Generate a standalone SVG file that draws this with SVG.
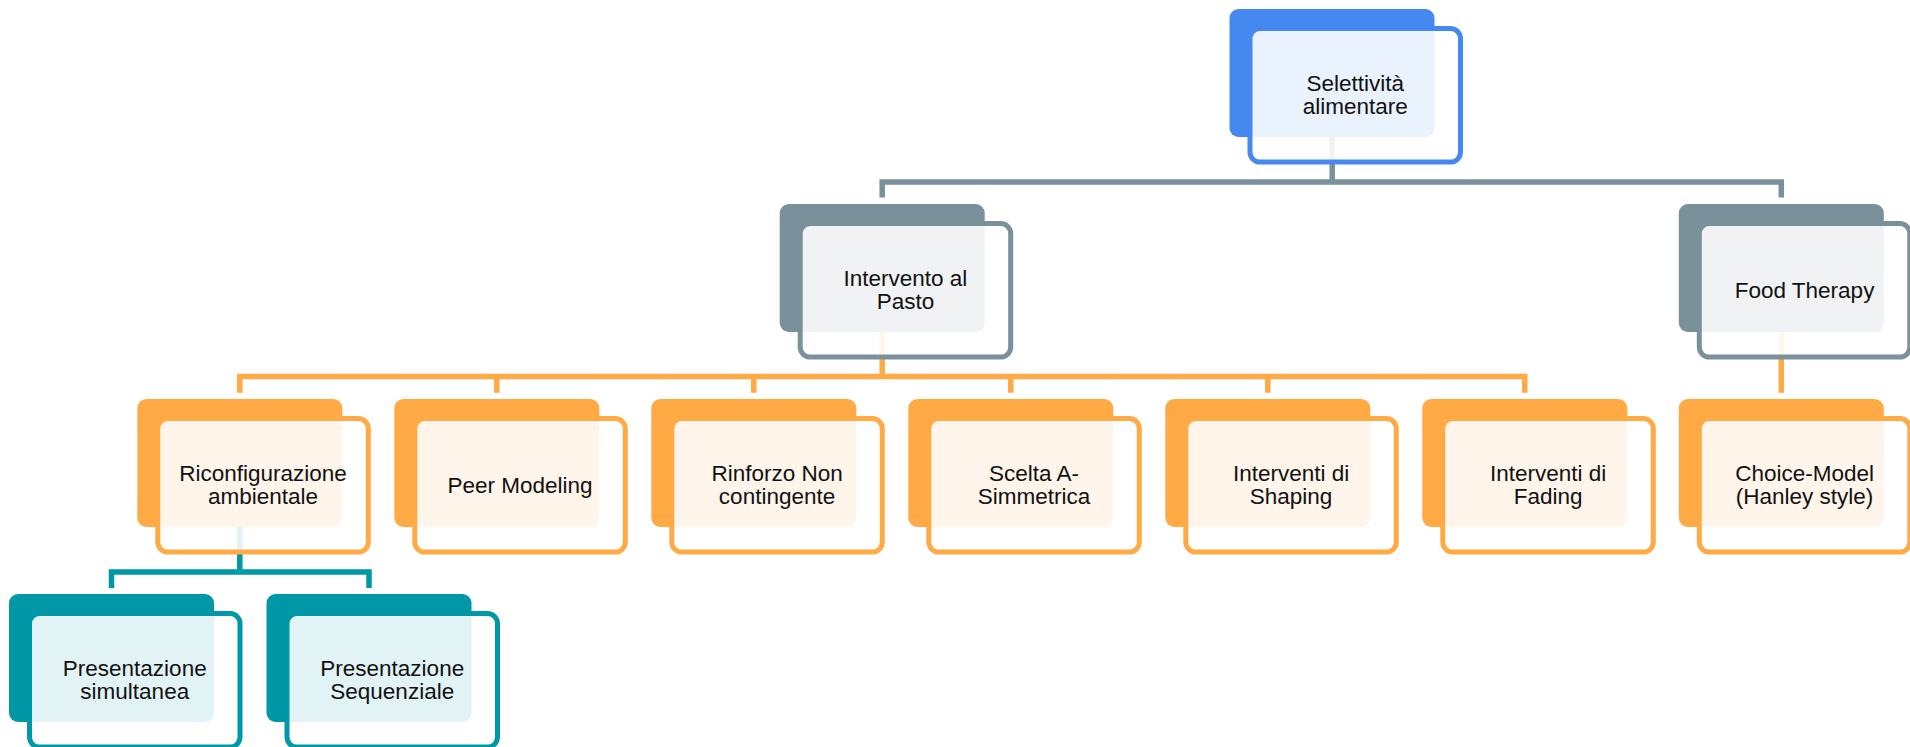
<svg xmlns="http://www.w3.org/2000/svg" width="1910" height="747" viewBox="0 0 1910 747">
  <style>
    .back { stroke: none; }
    .front { fill: #ffffff; fill-opacity: 0.885; stroke-width: 5; }
    .blue .back { fill: #4589F0; } .blue .front { stroke: #4589F0; }
    .grey .back { fill: #7A909A; } .grey .front { stroke: #7A909A; }
    .orange .back { fill: #FFAA45; } .orange .front { stroke: #FFAA45; }
    .teal .back { fill: #0098A7; } .teal .front { stroke: #0098A7; }
    .lbl { font-family: "Liberation Sans", Arial, sans-serif; font-size: 22.5px; fill: #111111; text-anchor: middle; }
    .wire { fill: none; stroke-width: 5.5; stroke-linejoin: miter; stroke-linecap: butt; }
    .wire.grey { stroke: #7A909A; }
    .wire.orange { stroke: #FFAA45; }
    .wire.teal { stroke: #0098A7; }
  </style>

  <rect width="1910" height="747" fill="#ffffff"/>

  <!-- connectors (drawn under the cards) -->
  <g id="connectors">
    <path class="wire grey" d="M1332.2,70 V182 M882.2,197.5 V182 H1781.3 V197.5"/>
    <path class="wire orange" d="M882.2,270 V376.5 M239.8,392.7 V376.5 H1524.8 V392.7 M496.8,376.5 V392.7 M753.8,376.5 V392.7 M1010.8,376.5 V392.7 M1267.8,376.5 V392.7 M1781.3,270 V392.7"/>
    <path class="wire teal" d="M239.8,465 V572 M111.5,588 V572 H369 V588"/>
  </g>

  <!-- level 0 -->
  <g id="n-selettivita" class="blue" transform="translate(1229.5,9)">
    <rect class="back" width="205" height="128" rx="9"/>
    <rect class="front" x="20.5" y="19.5" width="210.5" height="133.6" rx="10"/>
    <text class="lbl"><tspan x="125.75" y="82">Selettività</tspan><tspan x="125.75" y="105.3">alimentare</tspan></text>
  </g>

  <!-- level 1 -->
  <g id="n-intervento" class="grey" transform="translate(779.7,204)">
    <rect class="back" width="205" height="128" rx="9"/>
    <rect class="front" x="20.5" y="19.5" width="210.5" height="133.6" rx="10"/>
    <text class="lbl"><tspan x="125.75" y="82">Intervento al</tspan><tspan x="125.75" y="105.3">Pasto</tspan></text>
  </g>
  <g id="n-food" class="grey" transform="translate(1678.8,204)">
    <rect class="back" width="205" height="128" rx="9"/>
    <rect class="front" x="20.5" y="19.5" width="210.5" height="133.6" rx="10"/>
    <text class="lbl" x="125.75" y="93.8">Food Therapy</text>
  </g>

  <!-- level 2 -->
  <g id="n-riconfigurazione" class="orange" transform="translate(137.3,399)">
    <rect class="back" width="205" height="128" rx="9"/>
    <rect class="front" x="20.5" y="19.5" width="210.5" height="133.6" rx="10"/>
    <text class="lbl"><tspan x="125.75" y="82">Riconfigurazione</tspan><tspan x="125.75" y="105.3">ambientale</tspan></text>
  </g>
  <g id="n-peer" class="orange" transform="translate(394.3,399)">
    <rect class="back" width="205" height="128" rx="9"/>
    <rect class="front" x="20.5" y="19.5" width="210.5" height="133.6" rx="10"/>
    <text class="lbl" x="125.75" y="93.8">Peer Modeling</text>
  </g>
  <g id="n-rinforzo" class="orange" transform="translate(651.3,399)">
    <rect class="back" width="205" height="128" rx="9"/>
    <rect class="front" x="20.5" y="19.5" width="210.5" height="133.6" rx="10"/>
    <text class="lbl"><tspan x="125.75" y="82">Rinforzo Non</tspan><tspan x="125.75" y="105.3">contingente</tspan></text>
  </g>
  <g id="n-scelta" class="orange" transform="translate(908.3,399)">
    <rect class="back" width="205" height="128" rx="9"/>
    <rect class="front" x="20.5" y="19.5" width="210.5" height="133.6" rx="10"/>
    <text class="lbl"><tspan x="125.75" y="82">Scelta A-</tspan><tspan x="125.75" y="105.3">Simmetrica</tspan></text>
  </g>
  <g id="n-shaping" class="orange" transform="translate(1165.3,399)">
    <rect class="back" width="205" height="128" rx="9"/>
    <rect class="front" x="20.5" y="19.5" width="210.5" height="133.6" rx="10"/>
    <text class="lbl"><tspan x="125.75" y="82">Interventi di</tspan><tspan x="125.75" y="105.3">Shaping</tspan></text>
  </g>
  <g id="n-fading" class="orange" transform="translate(1422.3,399)">
    <rect class="back" width="205" height="128" rx="9"/>
    <rect class="front" x="20.5" y="19.5" width="210.5" height="133.6" rx="10"/>
    <text class="lbl"><tspan x="125.75" y="82">Interventi di</tspan><tspan x="125.75" y="105.3">Fading</tspan></text>
  </g>
  <g id="n-choice" class="orange" transform="translate(1678.8,399)">
    <rect class="back" width="205" height="128" rx="9"/>
    <rect class="front" x="20.5" y="19.5" width="210.5" height="133.6" rx="10"/>
    <text class="lbl"><tspan x="125.75" y="82">Choice-Model</tspan><tspan x="125.75" y="105.3">(Hanley style)</tspan></text>
  </g>

  <!-- level 3 -->
  <g id="n-simultanea" class="teal" transform="translate(9,594)">
    <rect class="back" width="205" height="128" rx="9"/>
    <rect class="front" x="20.5" y="19.5" width="210.5" height="133.6" rx="10"/>
    <text class="lbl"><tspan x="125.75" y="82">Presentazione</tspan><tspan x="125.75" y="105.3">simultanea</tspan></text>
  </g>
  <g id="n-sequenziale" class="teal" transform="translate(266.5,594)">
    <rect class="back" width="205" height="128" rx="9"/>
    <rect class="front" x="20.5" y="19.5" width="210.5" height="133.6" rx="10"/>
    <text class="lbl"><tspan x="125.75" y="82">Presentazione</tspan><tspan x="125.75" y="105.3">Sequenziale</tspan></text>
  </g>
</svg>
